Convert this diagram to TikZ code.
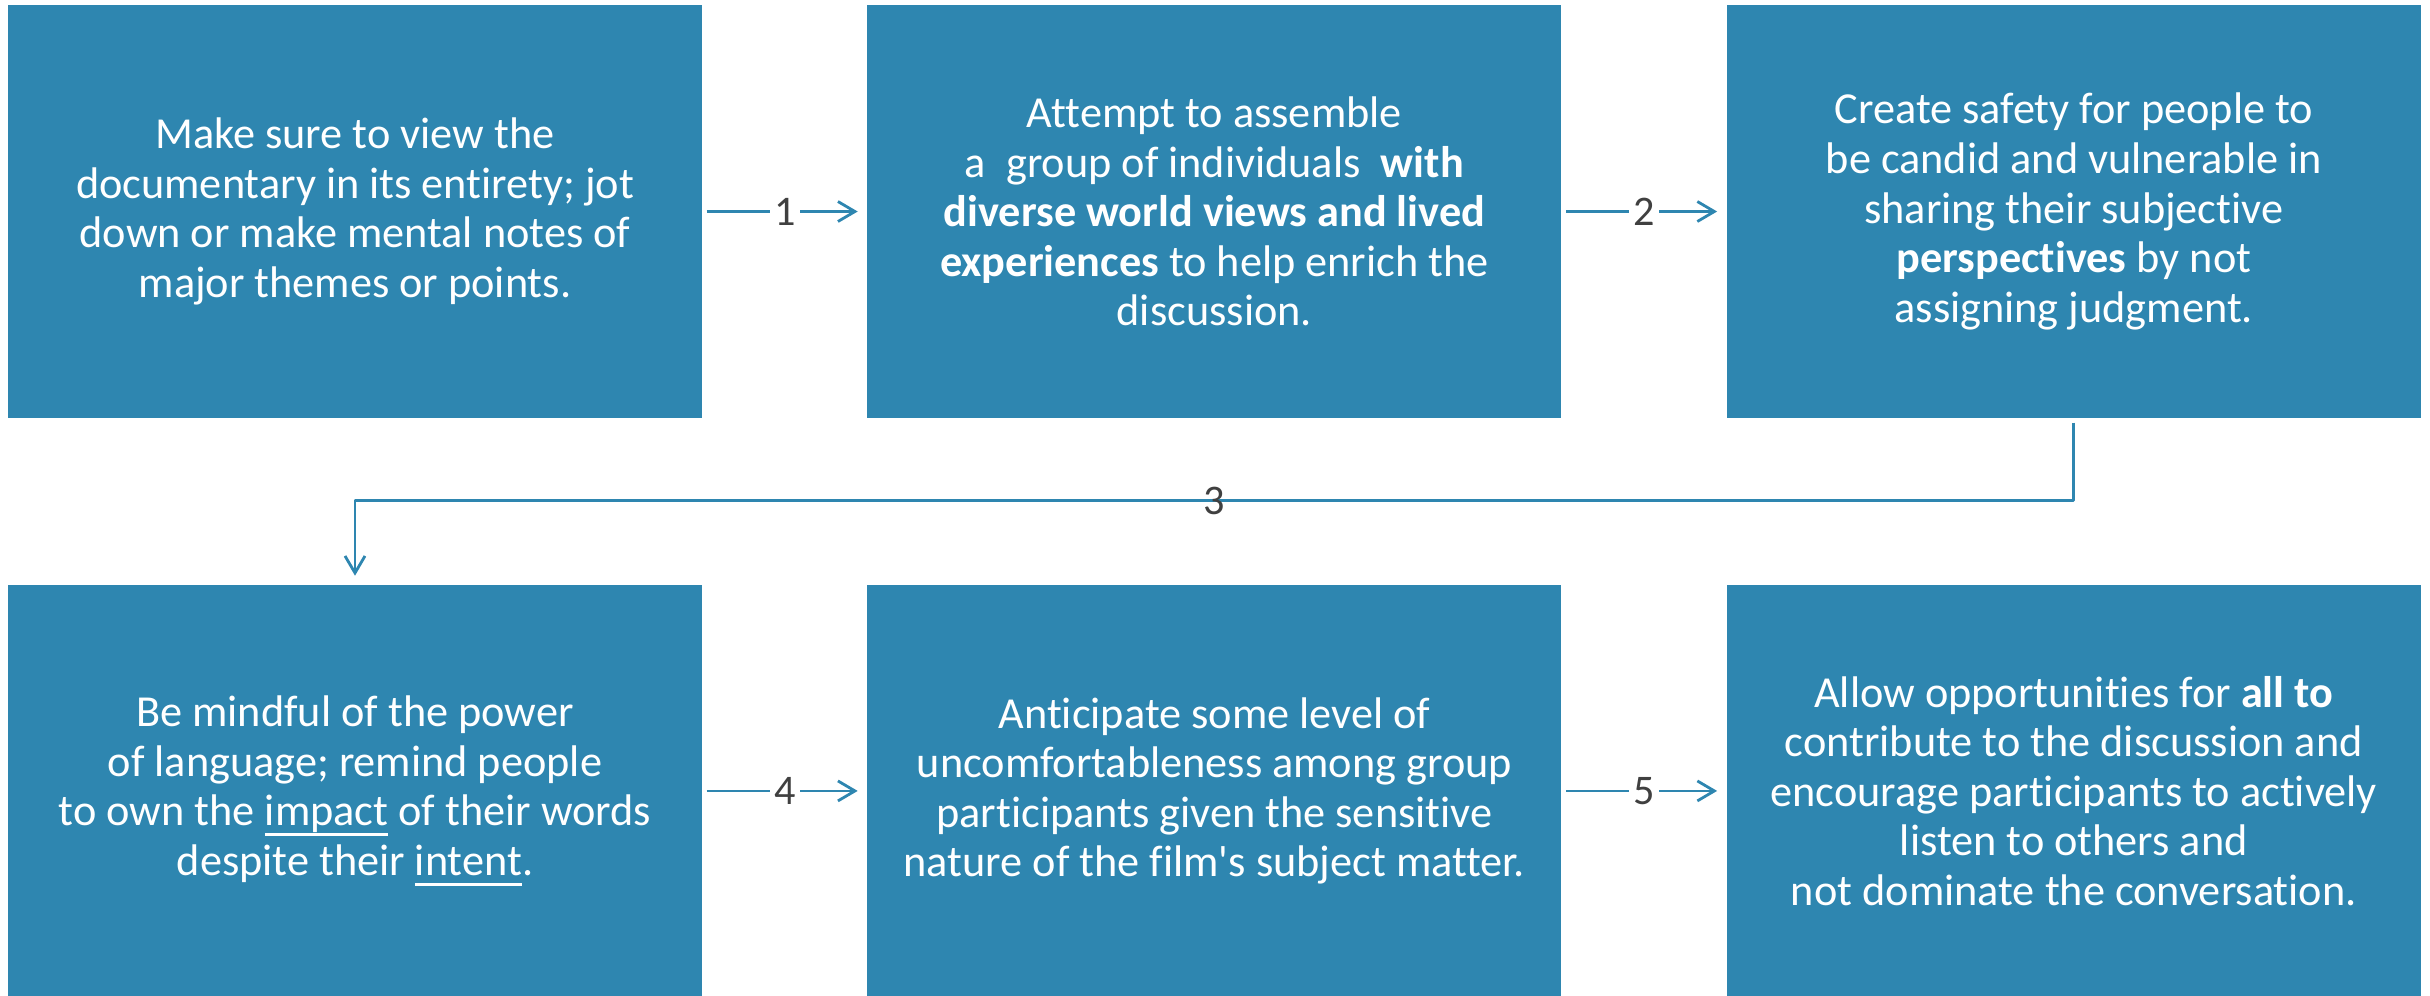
\documentclass[tikz,border=0pt]{standalone}
\usepackage{fontspec}
\setmainfont{Carlito}[Ligatures=NoCommon]
\usetikzlibrary{positioning,arrows.meta}
\definecolor{boxblue}{RGB}{46,134,176}
\definecolor{numgray}{RGB}{64,64,64}
\newcommand{\undl}[1]{\leavevmode\setbox0\hbox{#1}\rlap{\vrule width\wd0 height -2.1pt depth 2.9pt}\box0\relax}
\begin{document}
\begin{tikzpicture}[line join=round, >={Straight Barb[length=1.7mm,width=2mm]},
  card/.style={fill=boxblue, text=white, align=center, inner sep=0pt,
    minimum width=6.94cm, minimum height=4.13cm, font=\fontsize{12.6}{14.1}\selectfont},
  flow/.style={draw=boxblue, line width=0.8pt, ->, shorten <=0.4mm, shorten >=0.9mm},
  num/.style={text=numgray, font=\fontsize{12}{14}\selectfont, inner xsep=1.2pt, inner ysep=0.5pt}]
\def\gap{1.64cm} \def\vgap{1.66cm}
\useasboundingbox (0,0) rectangle (24.3,-9.95);
\node[card] (b1) at (3.55,-2.115) {Make sure to view the\\documentary in its entirety; jot\\down or make mental notes of\\major themes or points.};
\node[card, right=\gap of b1] (b2) {Attempt to assemble\\a\ \ group of individuals\ \ \textbf{with}\\\textbf{diverse world views and lived}\\\textbf{experiences} to help enrich the\\discussion.};
\node[card, right=\gap of b2] (b3) {Create safety for people to\\be candid and vulnerable in\\sharing their subjective\\\textbf{perspectives} by not\\assigning judgment.};
\node[card, minimum height=4.11cm, below=\vgap of b1] (b4) {Be mindful of the power\\of language; remind people\\to own the \undl{impact} of their words\\despite their \undl{intent}.};
\node[card, minimum height=4.11cm, right=\gap of b4] (b5) {Anticipate some level of\\uncomfortableness among group\\participants given the sensitive\\nature of the film\textquotesingle s subject matter.};
\node[card, minimum height=4.11cm, right=\gap of b5] (b6) {Allow opportunities for \textbf{all to}\\contribute to the discussion and\\encourage participants to actively\\listen to others and\\not dominate the conversation.};
\draw[flow] (b1) -- node[num, fill=white]{1} (b2);
\draw[flow] (b2) -- node[num, fill=white]{2} (b3);
\draw[flow] (b3.south) -- ++(0,-0.82) -| node[num, pos=0.25]{3} (b4.north);
\draw[flow] (b4) -- node[num, fill=white]{4} (b5);
\draw[flow] (b5) -- node[num, fill=white]{5} (b6);
\end{tikzpicture}
\end{document}
